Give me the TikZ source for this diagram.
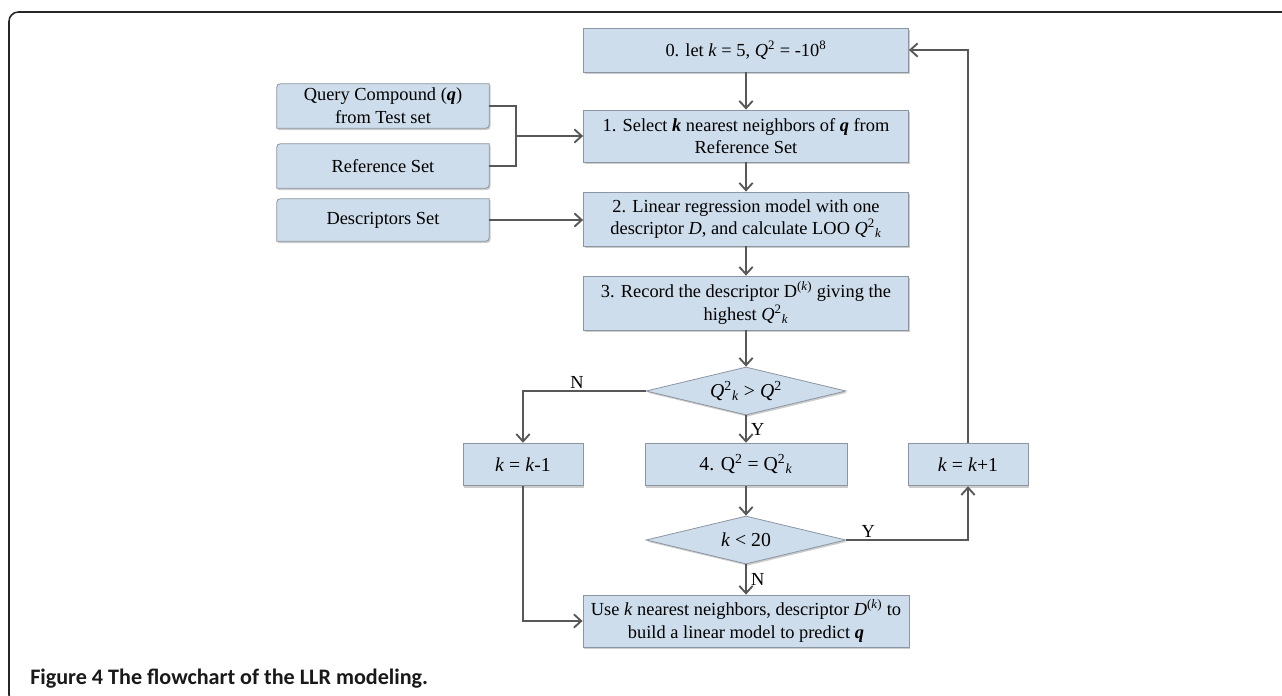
\documentclass[tikz,border=0pt]{standalone}
\usepackage{fontspec}
\setmainfont{Liberation Serif}
\newfontfamily\capfont{Carlito}
\usetikzlibrary{shapes.geometric, arrows.meta, shadows, backgrounds}

\definecolor{boxblue}{RGB}{206,221,235}
\definecolor{boxedge}{RGB}{140,150,162}
\definecolor{linegray}{RGB}{88,88,88}

\newcommand{\qk}{\textit{Q}\textsuperscript{2}\textsubscript{\textit{k}}}

\tikzset{
  stepbox/.style={rectangle, fill=boxblue, draw=boxedge, line width=0.6pt,
    align=center, inner sep=2pt, font=\fontsize{13.8}{17}\selectfont,
    drop shadow={shadow xshift=1pt, shadow yshift=-1.3pt, opacity=0.4}},
  bigtext/.style={font=\fontsize{14.8}{17}\selectfont},
  testbox/.style={stepbox, bigtext, shape=diamond, aspect=4.2, inner sep=0pt,
    minimum width=150pt, minimum height=36pt},
  sidebox/.style={align=center, inner sep=0pt, font=\fontsize{13.8}{17}\selectfont,
    minimum width=159pt, minimum height=33pt},
  sideshape/.style={fill=boxblue, draw=boxedge, line width=0.6pt,
    drop shadow={shadow xshift=1pt, shadow yshift=-1.3pt, opacity=0.4}},
  flow/.style={-{Straight Barb[length=5.5pt,width=10pt,line width=1.4pt]}, line width=1.7pt, draw=linegray},
  link/.style={line width=1.7pt, draw=linegray},
  yn/.style={font=\fontsize{13.8}{15}\selectfont, inner sep=3pt}
}

\begin{document}
\begin{tikzpicture}[x=0.75pt, y=-0.75pt]
\useasboundingbox (0,0) rectangle (1282,696);

% frame of the figure
\draw[line width=1.2pt, draw=black!85, rounded corners=7] (1282,12) -- (9,12) -- (9,704) -- (40,704);

% main column
\node[stepbox, minimum width=243.75pt, minimum height=33pt] (s0) at (746,50)
  {0. let \textit{k} = 5, \textit{Q}\textsuperscript{2} = -10\textsuperscript{8}};
\node[stepbox, minimum width=243.75pt, minimum height=39pt] (s1) at (746,136)
  {1. Select \textbf{\textit{k}} nearest neighbors of \textbf{\textit{q}} from\\Reference Set};
\node[stepbox, minimum width=243.75pt, minimum height=40.5pt] (s2) at (746,219)
  {2. Linear regression model with one\\descriptor \textit{D}, and calculate LOO \qk};
\node[stepbox, minimum width=243.75pt, minimum height=40.5pt] (s3) at (746,303)
  {3. Record the descriptor D\textsuperscript{(\textit{k})} giving the\\highest \qk};
\node[testbox] (t1) at (746,391) {\qk{} \textgreater{} \textit{Q}\textsuperscript{2}};
\node[stepbox, bigtext, minimum width=151.5pt, minimum height=32pt] (s4) at (746,464.5)
  {4. Q\textsuperscript{2} = Q\textsuperscript{2}\textsubscript{\textit{k}}};
\node[stepbox, bigtext, minimum width=90pt, minimum height=32pt] (kdown) at (523,464.5)
  {\textit{k} = \textit{k}-1};
\node[stepbox, bigtext, minimum width=90pt, minimum height=32pt] (kup) at (968,464.5)
  {\textit{k} = \textit{k}+1};
\node[testbox] (t2) at (746,540) {\textit{k} \textless{} 20};
\node[stepbox, minimum width=244.5pt, minimum height=39pt] (sfin) at (746,621)
  {Use \textit{k} nearest neighbors, descriptor \textit{D}\textsuperscript{(\textit{k})} to\\build a linear model to predict \textbf{\textit{q}}};

% inputs on the left
\node[sidebox] (query) at (383,106) {Query Compound (\textbf{\textit{q}})\\from Test set};
\node[sidebox] (refset) at (383,166) {Reference Set};
\node[sidebox, minimum height=31.5pt] (descset) at (383,220) {Descriptors Set};
\begin{scope}[on background layer]
  \foreach \n in {query,refset,descset}
    \path[sideshape] ([yshift=-6pt]\n.north west) .. controls (\n.north west) .. ([xshift=6pt]\n.north west)
      -- (\n.north east) -- ([yshift=6pt]\n.south east) .. controls (\n.south east) .. ([xshift=-6pt]\n.south east)
      -- (\n.south west) -- cycle;
\end{scope}

% connectors
\coordinate (join) at (516,136);
\draw[link] (query.east) -| (join);
\draw[link] (refset.east) -| (join);
\draw[flow] (join) -- (s1.west |- join);
\draw[flow] (descset.east) -- (s2.west |- descset.east);
\draw[flow] (s0) -- (s1);
\draw[flow] (s1) -- (s2);
\draw[flow] (s2) -- (s3);
\draw[flow] (s3) -- (t1);
\draw[flow] (t1) -- (s4) node[yn, midway, right] {Y};
\draw[flow] (t1.west) -| (kdown.north) node[yn, pos=0.28, above, inner sep=1pt] {N};
\draw[flow] (s4) -- (t2);
\draw[flow] (t2.east) -| (kup.south) node[yn, pos=0.09, above, inner sep=1pt] {Y};
\draw[flow] (t2) -- (sfin) node[yn, midway, right] {N};
\draw[flow] (kdown.south) |- (sfin.west);
\draw[flow] (kup.north) |- (s0.east);

% caption
\node[anchor=west, inner sep=0pt, text=black!90,
  font=\capfont\bfseries\fontsize{16.6}{18}\selectfont] (cap) at (30,679)
  {Figure 4 The flowchart of the LLR modeling.};
\end{tikzpicture}
\end{document}
